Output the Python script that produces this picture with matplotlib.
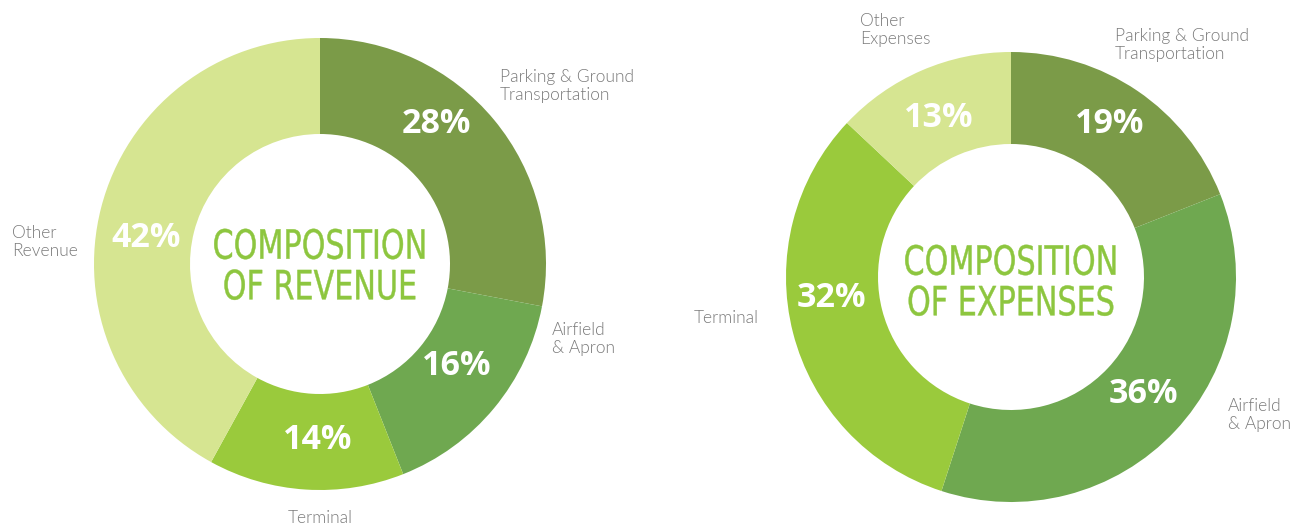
import matplotlib.pyplot as plt
from matplotlib.patheffects import AbstractPathEffect
from matplotlib.transforms import Affine2D

W, H = 1302, 527

rev_labels = ["Parking & Ground\nTransportation", "Airfield\n& Apron", "Terminal", "Other\nRevenue"]
rev_values = [28, 16, 14, 42]
exp_labels = ["Parking & Ground\nTransportation", "Airfield\n& Apron", "Terminal", "Other\nExpenses"]
exp_values = [19, 36, 32, 13]

colors = ["#7b9b48", "#6fa850", "#9aca3c", "#d6e591"]
title_color = "#8dc63f"
label_color = "#7a7a7a"


# squeeze text horizontally around a point (the reference title font is condensed)
class Squeeze(AbstractPathEffect):
    def __init__(self, cx, sx):
        super().__init__()
        self.cx, self.sx = cx, sx

    def draw_path(self, renderer, gc, tpath, affine, rgbFace=None):
        t = affine + Affine2D().translate(-self.cx, 0).scale(self.sx, 1).translate(self.cx, 0)
        gc.set_linewidth(0.3)
        gc.set_foreground(title_color)
        renderer.draw_path(gc, tpath, t, rgbFace)


fig = plt.figure(figsize=(W / 100, H / 100), dpi=100)
ax = fig.add_axes([0, 0, 1, 1])


def donut(values, labels, title, center, title_y, r_out, r_in, pct_pos, lab_pos, lab_ha):
    cx, cy = center
    ax.pie(values, colors=colors, startangle=90, counterclock=False,
           radius=r_out, center=(cx, H - cy),
           wedgeprops=dict(width=r_out - r_in, edgecolor="none"))
    for v, (px, py) in zip(values, pct_pos):
        ax.text(px, H - py, f"{v}%", color="white", fontsize=24.5,
                fontweight="bold", ha="center", va="center",
                family=["Open Sans", "DejaVu Sans"])
    for lab, (lx, ly), ha in zip(labels, lab_pos, lab_ha):
        ax.text(lx, H - ly, lab, color=label_color, fontsize=12.5,
                ha=ha, va="center", linespacing=1.2,
                family=["Lato", "DejaVu Sans"], fontweight=300)
    ax.text(cx, H - title_y, title, color=title_color, fontsize=29,
            ha="center", va="center", linespacing=1.02,
            family=["DejaVu Sans"], fontweight="medium",
            path_effects=[Squeeze(cx, 0.75)])


donut(rev_values, rev_labels, "COMPOSITION\nOF REVENUE", (320, 264), 268, 226, 130,
      [(436, 124), (457, 366), (318, 440), (146, 238)],
      [(500, 86), (552, 339), (320, 518), (12, 242)],
      ["left", "left", "center", "left"])
donut(exp_values, exp_labels, "COMPOSITION\nOF EXPENSES", (1011, 277), 284, 225, 133,
      [(1110, 124), (1143, 394), (831, 298), (939, 118)],
      [(1115, 45), (1228, 415), (694, 318), (860, 30)],
      ["left", "left", "left", "left"])

ax.set_xlim(0, W)
ax.set_ylim(0, H)
ax.set_aspect("auto")
ax.axis("off")

fig.savefig("out.png", dpi=100)
